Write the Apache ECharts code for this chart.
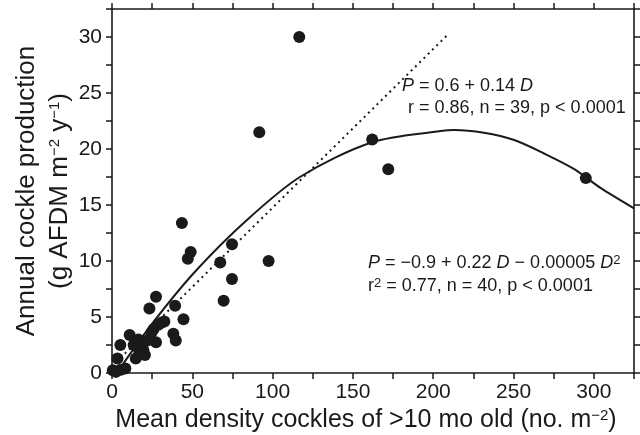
<!DOCTYPE html>
<html>
<head>
<meta charset="utf-8">
<script src="https://cdn.jsdelivr.net/npm/echarts@6/dist/echarts.min.js"></script>
<style>
  html, body { margin: 0; padding: 0; background: #fff; }
  #chart { width: 640px; height: 435px; }
</style>
</head>
<body>
<div id="chart"></div>
<script>
// observed points (density D, production P)
const density = [116.6, 91.7, 162, 172, 295, 43.5, 49, 47.2, 74.7, 67.4,
  97.5, 74.7, 69.5, 27.4, 23.3, 39.3, 44.5, 32.6, 28.9, 25.8,
  38.2, 39.7, 27.4, 11, 5.2, 16.4, 19.5, 14.8, 3.4, 0.5,
  5.5, 13.5, 18, 20.5, 2.5, 8.3, 31, 24.5, 17, 22];
const production = [30.0, 21.5, 20.85, 18.2, 17.4, 13.4, 10.8, 10.2, 11.5, 9.86,
  10.0, 8.4, 6.45, 6.8, 5.75, 6.0, 4.8, 4.6, 4.3, 3.9,
  3.5, 2.9, 2.75, 3.4, 2.5, 3.0, 2.05, 1.3, 1.3, 0.25,
  0.3, 2.5, 2.6, 1.6, 0.1, 0.4, 4.5, 3.6, 1.9, 2.9];

// linear fit (dotted)
const linDensity = [0, 209];
const linProduction = [0.6, 30.2];

// quadratic fit (solid)
const quadDensity = [3, 25, 51.8, 84, 117, 162, 204.6, 213, 231.6, 250.4, 269, 287.8, 304.4, 325];
const quadProduction = [0, 4.4, 9.06, 13.66, 17.5, 20.6, 21.6, 21.7, 21.45, 20.8, 19.6, 18.2, 16.5, 14.7];

const xLabelStep = 50;
const yLabelStep = 5;

const pairs = (xs, ys) => xs.map((x, i) => [x, ys[i]]);

const chart = echarts.init(document.getElementById("chart"));
const font = "Liberation Sans";
const ink = "#1a1a1a";

const tickStyle = { show: true, inside: false, length: 6, lineStyle: { color: ink, width: 1.5 } };
const lineStyle = { show: true, onZero: false, lineStyle: { color: ink, width: 1.6 } };
const supStyle = { fontSize: 15, verticalAlign: "top", padding: [0, 0, 10, 0], fontFamily: font, fill: ink, color: ink };

chart.setOption({
  animation: false,
  backgroundColor: "#fff",
  textStyle: { fontFamily: font },
  grid: { left: 112, right: 6, top: 9, bottom: 62, containLabel: false, outerBoundsMode: "none" },
  xAxis: [
    {
      type: "value", min: 0, max: 325, interval: 25, position: "bottom",
      axisLine: lineStyle, axisTick: tickStyle, splitLine: { show: false },
      axisLabel: {
        margin: 9, fontSize: 21, color: ink, fontFamily: font,
        formatter: (v) => (v % xLabelStep === 0 && v <= 300 ? String(v) : "")
      },
      name: "Mean density cockles of >10 mo old (no. m{sup|−2})",
      nameLocation: "middle", nameGap: 35,
      nameTextStyle: { fontSize: 25, color: ink, fontFamily: font, padding: [0, 14, 0, 0], rich: { sup: supStyle } }
    },
    {
      type: "value", min: 0, max: 325, interval: 25, position: "top",
      axisLine: lineStyle, axisTick: tickStyle, axisLabel: { show: false }, splitLine: { show: false }
    }
  ],
  yAxis: [
    {
      type: "value", min: 0, max: 32.5, interval: 2.5, position: "left",
      axisLine: lineStyle, axisTick: tickStyle, splitLine: { show: false },
      axisLabel: {
        margin: 10, fontSize: 21, color: ink, fontFamily: font,
        formatter: (v) => (v % yLabelStep === 0 && v <= 30 ? String(v) : "")
      }
    },
    {
      type: "value", min: 0, max: 32.5, interval: 2.5, position: "right",
      axisLine: lineStyle, axisTick: tickStyle, axisLabel: { show: false }, splitLine: { show: false }
    }
  ],
  series: [
    {
      name: "linear", type: "line", data: pairs(linDensity, linProduction),
      symbol: "none", lineStyle: { color: ink, width: 2, type: [2, 4] }, z: 2
    },
    {
      name: "quadratic", type: "line", data: pairs(quadDensity, quadProduction),
      symbol: "none", smooth: 0.3, lineStyle: { color: ink, width: 2 }, z: 2
    },
    {
      name: "observed", type: "scatter", data: pairs(density, production),
      symbol: "circle", symbolSize: 12, itemStyle: { color: ink, opacity: 1 }, z: 3
    }
  ],
  graphic: [
    // y axis title, two rotated lines
    {
      type: "text", x: 27, y: 191, rotation: Math.PI / 2, z: 10,
      style: { text: "Annual cockle production", fill: ink, font: "26px " + font, align: "center", verticalAlign: "middle" }
    },
    {
      type: "text", x: 60, y: 191, rotation: Math.PI / 2, z: 10,
      style: {
        text: "(g AFDM m{sup|−2} y{sup|−1})", fill: ink, font: "26px " + font, align: "center", verticalAlign: "middle",
        rich: { sup: supStyle }
      }
    },
    {
      type: "text", left: 402, top: 77, z: 10,
      style: {
        text: "{i|P} = 0.6 + 0.14 {i|D}", fill: ink, font: "18px " + font,
        rich: { i: { fontStyle: "italic", fontSize: 18, fontFamily: font, fill: ink } }
      }
    },
    {
      type: "text", left: 408, top: 99, z: 10,
      style: { text: "r = 0.86, n = 39, p < 0.0001", fill: ink, font: "18px " + font }
    },
    {
      type: "text", left: 368, top: 254, z: 10,
      style: {
        text: "{i|P} = −0.9 + 0.22 {i|D} − 0.00005 {i|D}{s|2}", fill: ink, font: "18px " + font,
        rich: {
          i: { fontStyle: "italic", fontSize: 18, fontFamily: font, fill: ink },
          s: { fontSize: 13, fontFamily: font, fill: ink, verticalAlign: "top", padding: [0, 0, 4, 0] }
        }
      }
    },
    {
      type: "text", left: 368, top: 277, z: 10,
      style: {
        text: "r{s|2} = 0.77, n = 40, p < 0.0001", fill: ink, font: "18px " + font,
        rich: { s: { fontSize: 13, fontFamily: font, fill: ink, verticalAlign: "top", padding: [0, 0, 6, 0] } }
      }
    }
  ]
});
</script>
</body>
</html>
